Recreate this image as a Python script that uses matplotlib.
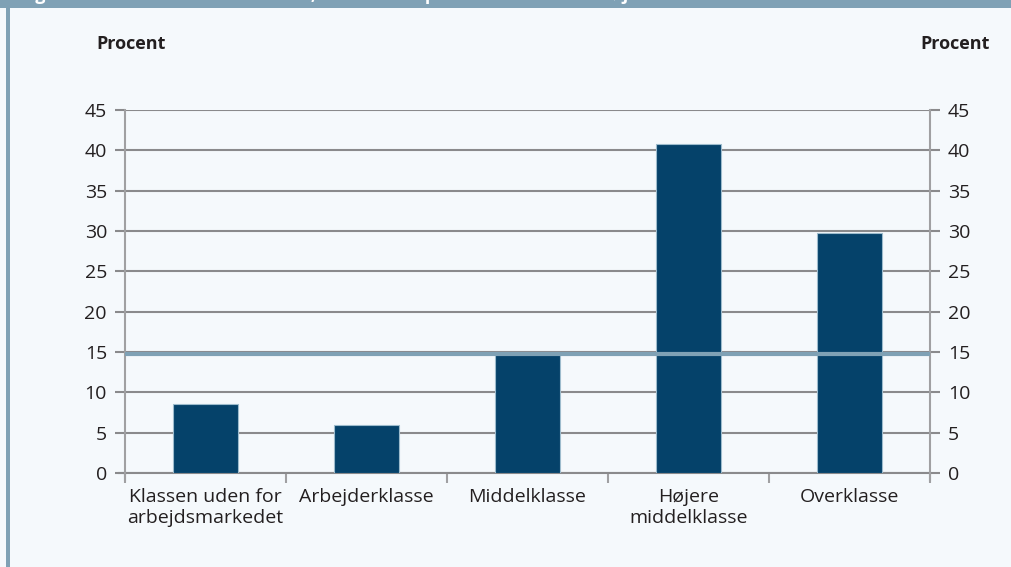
import numpy as np
import matplotlib
matplotlib.use("Agg")
import matplotlib.pyplot as plt
from matplotlib.patches import Rectangle

# data
categories = ["Klassen uden for\narbejdsmarkedet", "Arbejderklasse", "Middelklasse",
              "Højere\nmiddelklasse", "Overklasse"]
values = [8.6, 6.0, 15.0, 40.8, 29.8]
average = 14.8
yticks = [0, 5, 10, 15, 20, 25, 30, 35, 40, 45]
title = "Figur 10: Andelen fra hver klasse, der danner par med en fra den højere middelklasse"

bg = "#f5f9fc"
frame = "#7fa1b5"
bar_col = "#05426a"
grid_col = "#8a8a8c"

plt.rcParams["font.family"] = ["Open Sans", "DejaVu Sans"]

fig = plt.figure(figsize=(10.12, 5.67), dpi=100)
fig.patch.set_facecolor(bg)

# header band and left stripe
fig.patches.append(Rectangle((0, 1 - 8 / 567), 1, 8 / 567, transform=fig.transFigure,
                             facecolor=frame, edgecolor="none", zorder=0))
fig.patches.append(Rectangle((6 / 1012, 0), 4 / 1012, 1, transform=fig.transFigure,
                             facecolor=frame, edgecolor="none", zorder=0))
fig.text(20 / 1012, 1 - 4 / 567, title, color="white", fontsize=13, fontweight="bold",
         ha="left", va="bottom")

ax = fig.add_axes([125 / 1012, 1 - 473 / 567, 805 / 1012, 363 / 567])
ax.set_facecolor(bg)

x = np.arange(len(categories))
ax.bar(x, values, width=0.4, color=bar_col, edgecolor="#9dbccd", linewidth=0.8, zorder=3)
ax.axhline(average, color=frame, linewidth=3, zorder=4)

ax.set_xlim(-0.5, len(categories) - 0.5)
ax.set_ylim(0, 45)
ax.set_yticks(yticks)
ax.yaxis.grid(True, color=grid_col, linewidth=1.5, zorder=1)
ax.set_axisbelow(True)

for s in ["top", "bottom"]:
    ax.spines[s].set_visible(False)
for s in ["left", "right"]:
    ax.spines[s].set_color("#a0a0a2")
    ax.spines[s].set_linewidth(1.5)
    ax.spines[s].set_bounds(-0.9, 45)

ax.tick_params(axis="y", which="both", left=True, right=True, labelleft=True, labelright=True,
               length=7, width=1.5, color=grid_col, labelsize=14, labelcolor="#231f20", pad=6)
ax.set_xticks(x)
ax.set_xticklabels(categories)
ax.set_xticks(np.arange(len(categories) + 1) - 0.5, minor=True)
ax.tick_params(axis="x", which="major", length=0, labelsize=14, labelcolor="#231f20", pad=11)
ax.tick_params(axis="x", which="minor", length=7, width=1.5, color="#a0a0a2")
ax.axhline(0, color=grid_col, linewidth=1.5, zorder=2, clip_on=False)
ax.plot([-0.5 - 0.04, -0.5], [0, 0], color=grid_col, linewidth=1.5, clip_on=False)

fig.text(96 / 1012, 1 - 44 / 567, "Procent", fontsize=13, fontweight="bold",
         color="#231f20", ha="left", va="center")
fig.text(990 / 1012, 1 - 44 / 567, "Procent", fontsize=13, fontweight="bold",
         color="#231f20", ha="right", va="center")

fig.savefig("out.png", dpi=100, facecolor=bg)
